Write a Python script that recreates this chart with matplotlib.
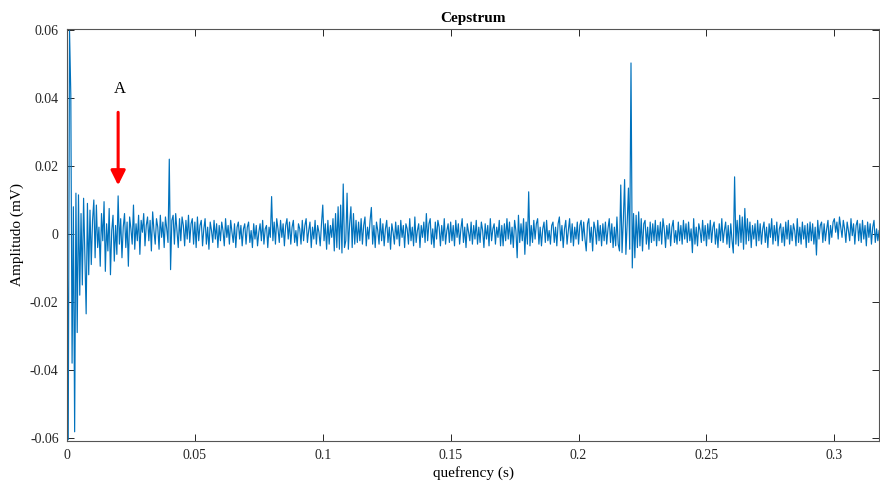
import numpy as np
import matplotlib
matplotlib.use('Agg')
import matplotlib.pyplot as plt
from matplotlib.ticker import FuncFormatter

# cepstrum samples, units of 1e-4 mV, one sample every 0.5 ms
dt = 0.0005
amp_e4 = [
    120, -605, 598, 410, -380, 80, -582, 120, -290, 115, -180, 60, -150, 105, -60, -235, 90, -120, 70, -90,
    40, 100, -70, 85, -40, 20, -95, 60, -20, 95, -110, 30, -50, 75, -120, 10, 55, -80, 25, -60,
    112, -30, 45, -70, 20, 60, -40, 35, -95, 50, 15, -30, 85, -45, 30, -20, 55, -60, 40, 5,
    60, -35, 25, 50, -20, 40, -50, 65, 10, -30, 45, 20, -45, 55, -10, 35, -40, 50, 15, -25,
    220, -105, 40, 55, -30, 60, 10, -40, 45, -20, 50, 25, -35, 40, -15, 55, -25, 30, 45, -30,
    35, -40, 50, -20, 25, 40, -35, 15, 45, -30, 20, -45, 35, 10, -25, 40, -15, 30, -40, 25,
    -20, 35, 10, -35, 45, -10, 25, -30, 40, 5, -25, 30, -40, 20, 35, -15, 25, -35, 15, 30,
    -30, 20, 35, -25, 10, -40, 30, -15, 25, -35, 5, 30, -20, 40, -30, 15, 25, -40, 20, -10,
    110, -20, 35, -30, 45, 15, -25, 40, -10, 30, -35, 25, 45, -15, 35, -30, 20, 40, -25, 10,
    -35, 30, 15, -30, 40, -20, 25, 45, -25, 10, 35, -40, 20, -15, 40, -30, 25, 5, -35, 30,
    85, -20, 30, -45, 40, -30, 25, -10, 45, -50, 60, -40, 80, -45, 85, -56, 147, -40, -20, 120,
    -45, 30, 80, -40, 60, -30, 40, -25, 35, -20, 45, -30, 25, 50, -35, 20, -15, 40, 78, -30,
    25, -40, 35, 10, -30, 45, -20, 30, -35, 15, 40, -25, 20, -45, 30, 5, -30, 35, -15, 25,
    -35, 40, -10, 25, -40, 30, 15, -30, 45, -20, 20, -35, 50, -25, 10, 30, -40, 25, -10, 35,
    -25, 60, -20, 30, 45, -30, 15, -40, 35, -15, 40, 20, -35, 25, -20, 45, -30, 10, 30, -25,
    35, -20, 25, -35, 40, -10, 30, -30, 15, 45, -25, 20, -40, 30, 5, -20, 35, -30, 25, -15,
    40, -30, 20, -25, 35, 10, -40, 30, -15, 25, -35, 45, -20, 15, 30, -30, 20, -10, 40, -35,
    25, -35, 30, -20, 45, -15, 35, -30, 20, -40, 40, 10, -70, 55, -25, 30, -20, 45, -60, 35,
    -30, 124, -35, 25, -25, 40, -15, 30, 45, -30, 20, -35, 15, 35, -25, 40, -20, 10, -30, 25,
    35, -25, 20, -35, 30, 50, -20, 25, -40, 15, 40, -30, 10, 45, -25, 30, -35, 20, -15, 35,
    -30, 25, 40, -20, 35, -15, -50, 30, 45, -25, 20, -50, 35, 15, -30, 40, -20, 25, -35, 30,
    -20, 35, -30, 15, 45, -25, 30, -40, 20, -35, 50, -30, -50, 144, -55, 40, 160, -60, 30, 135,
    -45, 503, -100, 60, -70, 55, -40, 65, -35, 45, -50, 30, 40, -30, 20, -45, 35, -25, 30, -20,
    40, -35, 25, -20, 35, -30, 45, 15, -40, 25, -15, 30, -35, 20, 40, -25, 10, -30, 35, -20,
    25, -30, 40, -15, 30, -25, 35, -20, 15, -55, 45, -30, 20, -35, 30, 10, -25, 40, -20, 25,
    -35, 30, -15, 40, -25, 20, 35, -30, 15, -40, 30, -20, 45, -25, 10, 35, -30, 25, -40, 30,
    -20, -56, 168, -30, 40, -35, 55, -25, 50, -45, 75, -30, 45, -20, 35, -40, 25, -15, 30, -35,
    40, -20, 30, -30, 15, 35, -25, 20, -40, 30, -10, 45, -30, 25, -20, 35, -35, 15, 30, -25,
    20, -35, 35, -15, 40, -30, 25, -20, 30, 10, -35, 45, -25, 20, -30, 35, -15, 25, -40, 30,
    -25, 35, -20, 30, -30, 20, -62, 40, -15, 25, 35, -25, 30, -20, 15, 40, -30, 25, -10, 35,
    45, 5, 35, -15, 50, 20, -10, 40, 15, -25, 35, 10, -20, 45, -5, 30, -30, 25, 40, -20,
    30, -25, 40, -15, 25, -35, 35, -10, 30, -30, 20, 40, -25, 15, -20, 10,
]
x_ticks = [0, 0.05, 0.1, 0.15, 0.2, 0.25, 0.3]
y_ticks = [-0.06, -0.04, -0.02, 0, 0.02, 0.04, 0.06]
marker_x = 0.02  # arrow "A"

amp = np.array(amp_e4) * 1e-4
t = np.arange(len(amp)) * dt

plt.rcParams['font.family'] = ['Liberation Serif', 'DejaVu Serif']
plt.rcParams['axes.unicode_minus'] = False

fig = plt.figure(figsize=(8.8, 4.87), dpi=100)
ax = fig.add_axes([0.0761, 0.0945, 0.9229, 0.846])

ax.plot(t, amp, color='#0072BD', linewidth=0.85)

ax.set_xlim(0, t[-1])
ax.set_ylim(-0.0609, 0.0603)
ax.set_xticks(x_ticks)
ax.set_yticks(y_ticks)
fmt = FuncFormatter(lambda v, p: '0' if abs(v) < 1e-12 else f'{v:g}')
ax.xaxis.set_major_formatter(fmt)
ax.yaxis.set_major_formatter(fmt)
ax.tick_params(direction='in', top=True, right=True, length=5, width=0.7,
               labelsize=10, colors='#262626', pad=6)
for s in ax.spines.values():
    s.set_color('#555555')
    s.set_linewidth(0.8)

ax.set_title('Cepstrum', fontsize=11, fontweight='bold', pad=5)
ax.set_xlabel('quefrency (s)', fontsize=11, labelpad=3)
ax.set_ylabel('Amplitudo (mV)', fontsize=11, labelpad=4)

# red arrow pointing at A
ax.annotate('', xy=(marker_x, 0.0135), xytext=(marker_x, 0.0366),
            arrowprops=dict(arrowstyle='-|>', color='red', lw=2.2, mutation_scale=22))
ax.text(marker_x + 0.0005, 0.0425, 'A', fontsize=12, ha='center', va='center')

plt.savefig('out.png', dpi=100)
plt.close(fig)
